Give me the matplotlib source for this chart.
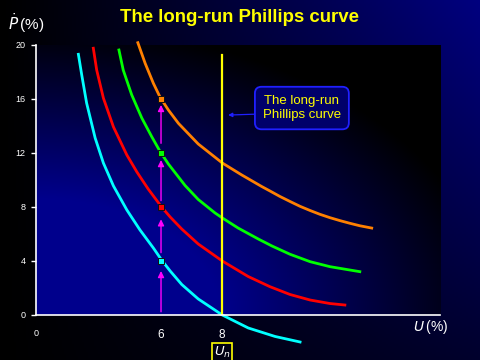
import numpy as np
import matplotlib.pyplot as plt

plt.rcParams['font.family'] = ['Liberation Sans', 'DejaVu Sans']

# Values
cyan_u = [3.29, 3.40, 3.56, 3.84, 4.11, 4.44, 4.88, 5.31, 5.75, 6.02, 6.30, 6.68, 7.22, 8.01, 8.86, 9.74, 10.56]
cyan_p = [19.31, 17.78, 15.70, 13.11, 11.26, 9.56, 7.78, 6.30, 4.96, 4.07, 3.26, 2.26, 1.19, 0.0, -0.96, -1.59, -2.0]

red_u = [3.78, 3.89, 4.11, 4.44, 4.88, 5.21, 5.58, 6.02, 6.30, 6.68, 7.22, 8.01, 8.86, 9.57, 10.23, 10.89, 11.54, 12.03]
red_p = [19.76, 18.15, 16.07, 13.93, 11.85, 10.59, 9.33, 8.00, 7.26, 6.37, 5.26, 4.00, 2.85, 2.10, 1.52, 1.11, 0.85, 0.74]

green_u = [4.62, 4.76, 5.04, 5.37, 5.70, 5.97, 6.24, 6.79, 7.22, 7.77, 8.01, 8.53, 9.19, 9.64, 10.23, 10.89, 11.54, 12.20, 12.52]
green_p = [19.63, 18.15, 16.30, 14.59, 13.19, 12.11, 11.19, 9.59, 8.56, 7.56, 7.19, 6.44, 5.63, 5.11, 4.50, 3.95, 3.58, 3.33, 3.21]

orange_u = [5.24, 5.48, 5.75, 5.97, 6.24, 6.57, 7.22, 8.01, 8.65, 9.30, 9.57, 9.90, 10.23, 10.56, 10.89, 11.21, 11.54, 11.87, 12.20, 12.52, 12.91]
orange_p = [20.17, 18.64, 17.16, 16.13, 15.19, 14.20, 12.67, 11.26, 10.37, 9.52, 9.19, 8.78, 8.41, 8.05, 7.74, 7.46, 7.21, 6.99, 6.79, 6.61, 6.44]

marker_p = [4, 8, 12, 16]
arrow_start = [0.24, 4.62, 8.47, 12.72]
arrow_end = [3.26, 7.09, 11.48, 15.56]

u_short = 6
u_natural = 8
lrpc_top = 19.26
y_ticks = [0, 4, 8, 12, 16, 20]

xmin, xmax = 1.9, 15.15
ymin, ymax = 0, 20

fig = plt.figure(figsize=(4.8, 3.6), dpi=100)

# figure background: black on the left, navy towards the top right
bg = fig.add_axes([0, 0, 1, 1], zorder=-10)
gx, gy = np.meshgrid(np.linspace(0, 1, 240), np.linspace(1, 0, 180))
t = np.clip(gx ** 1.1 * (0.35 + 0.65 * gy), 0, 1)
img = np.dstack([np.zeros_like(t), np.zeros_like(t), 0.5 * t])
bg.imshow(img, extent=[0, 1, 0, 1], aspect='auto')
bg.axis('off')

ax = fig.add_axes([0.075, 0.125, 0.8417, 0.75])
ax.set_facecolor('none')

# plot area background: navy at bottom left, fading to black
ax_x, ax_y = np.meshgrid(np.linspace(0, 1, 200), np.linspace(1, 0, 150))
d = np.sqrt((ax_x * 0.95) ** 2 + ax_y ** 2)
t2 = np.clip((1.08 - d) / 0.65, 0, 1)
img2 = np.dstack([np.zeros_like(t2), np.zeros_like(t2), 0.55 * t2])
ax.imshow(img2, extent=[xmin, xmax, ymin, ymax], aspect='auto', zorder=0)

lw = 2.0
ax.plot(cyan_u, cyan_p, color='#00ffff', lw=lw, clip_on=False, zorder=3)
ax.plot(red_u, red_p, color='#ff0000', lw=lw, zorder=3)
ax.plot(green_u, green_p, color='#00ff00', lw=lw, zorder=3)
ax.plot(orange_u, orange_p, color='#ff8000', lw=lw, clip_on=False, zorder=3)

for p, c in zip(marker_p, ['#00ffff', '#ff0000', '#00ff00', '#ff8000']):
    ax.plot(u_short, p, marker='s', ms=4, color=c, mec='#101010', mew=0.7, zorder=4)

for a, b in zip(arrow_start, arrow_end):
    ax.annotate('', xy=(u_short, b), xytext=(u_short, a),
                arrowprops=dict(arrowstyle='-|>', color='#ff00ff', lw=1.0,
                                mutation_scale=9, shrinkA=0, shrinkB=0),
                zorder=5)

# long-run Phillips curve
ax.plot([u_natural, u_natural], [0, lrpc_top], color='#ffff00', lw=1.6, zorder=4)

ax.annotate('The long-run\nPhillips curve', xy=(8.2, 14.81), xytext=(10.62, 15.33),
            color='#ffff00', fontsize=9.5, ha='center', va='center', linespacing=1.3,
            bbox=dict(boxstyle='round,pad=0.6,rounding_size=0.5', fc='#00006a',
                      ec='#2020ff', lw=1.3),
            arrowprops=dict(arrowstyle='-|>', color='#2020ff', lw=0.9,
                            mutation_scale=6, shrinkA=0, shrinkB=0,
                            relpos=(0, 0.28)),
            zorder=6)

ax.set_xlim(xmin, xmax)
ax.set_ylim(ymin, ymax)

for s in ['top', 'right']:
    ax.spines[s].set_visible(False)
for s in ['left', 'bottom']:
    ax.spines[s].set_color('white')
    ax.spines[s].set_linewidth(1.2)
    ax.spines[s].set_zorder(7)

ax.set_yticks(y_ticks)
ax.set_yticklabels([str(v) for v in y_ticks])
ax.tick_params(axis='y', colors='white', labelsize=6.5, length=3.5, width=1, pad=4)
ax.set_xticks([xmin, u_short, u_natural])
ax.set_xticklabels(['0', '6', '8'])
ax.tick_params(axis='x', colors='white', labelsize=8.5, length=0, pad=10)
ax.get_xticklabels()[0].set_fontsize(6.5)

fig.text(0.5, 0.952, 'The long-run Phillips curve', color='#ffff00',
         fontsize=13.4, fontweight='bold', ha='center', va='center')
fig.text(0.017, 0.935, r'$\dot{P}\,$(%)', color='white', fontsize=11,
         ha='left', va='center')
fig.text(0.86, 0.092, r'$U\,$(%)', color='white', fontsize=10,
         ha='left', va='center')
fig.text(222 / 480, 0.02, r'$U_n$', color='white', fontsize=9.5,
         ha='center', va='center',
         bbox=dict(boxstyle='square,pad=0.15', fc='none', ec='#ffff00', lw=1.2))

fig.savefig('out.png', dpi=100)
